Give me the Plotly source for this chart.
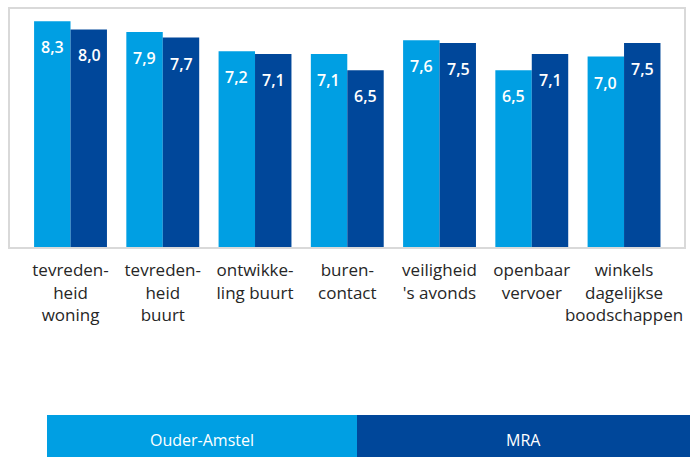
import plotly.graph_objects as go

categories = [
    "tevreden-<br>heid<br>woning",
    "tevreden-<br>heid<br>buurt",
    "ontwikke-<br>ling buurt",
    "buren-<br>contact",
    "veiligheid<br>'s avonds",
    "openbaar<br>vervoer",
    "winkels<br>dagelijkse<br>boodschappen",
]
ouder_amstel = [8.3, 7.9, 7.2, 7.1, 7.6, 6.5, 7.0]
mra = [8.0, 7.7, 7.1, 6.5, 7.5, 7.1, 7.5]
series_names = ["Ouder-Amstel", "MRA"]

LIGHT = "#009FE3"
DARK = "#00479A"
FONT = "Open Sans"

fig = go.Figure()
idx = list(range(len(categories)))
fig.add_trace(go.Bar(x=idx, y=ouder_amstel, name=series_names[0],
                     marker=dict(color=LIGHT, line=dict(width=0))))
fig.add_trace(go.Bar(x=idx, y=mra, name=series_names[1],
                     marker=dict(color=DARK, line=dict(width=0))))

annotations = []
for vals, sh in ((ouder_amstel, -18.5), (mra, 18.5)):
    for i, v in enumerate(vals):
        annotations.append(dict(
            x=i, y=v, xref="x", yref="y", xshift=sh, yshift=-26,
            text=f"{v:.1f}".replace(".", ","), showarrow=False,
            font=dict(family=FONT, size=16, color="white", weight=600),
            xanchor="center", yanchor="middle"))

fig.update_layout(
    width=690, height=457,
    margin=dict(l=10, r=6, t=9, b=210, autoexpand=False),
    plot_bgcolor="white", paper_bgcolor="white",
    barmode="group", bargap=0.21, bargroupgap=0,
    showlegend=False,
    separators=",.",
    font=dict(family=FONT, color="#262626"),
    xaxis=dict(
        tickmode="array", tickvals=idx, ticktext=categories,
        range=[-0.656, 6.65], tickangle=0, automargin=False,
        showline=True, mirror=True, linecolor="#D9D9D9", linewidth=2,
        showgrid=False, zeroline=False, ticks="",
        tickfont=dict(family=FONT, size=17, color="#262626"),
        ticklabelstandoff=7,
    ),
    yaxis=dict(
        range=[0, 8.75], showticklabels=False, showgrid=False, automargin=False,
        zeroline=False, showline=True, mirror=True,
        linecolor="#D9D9D9", linewidth=2, ticks="",
    ),
)

shapes = []
legend_blocks = [(series_names[0], LIGHT, 47, 357), (series_names[1], DARK, 357, 690)]
for name, col, x0, x1 in legend_blocks:
    shapes.append(dict(type="rect", xref="paper", yref="paper",
                       x0=(x0 - 10) / 674, x1=(x1 - 10) / 674,
                       y0=(247 - 457) / 238, y1=(247 - 415) / 238,
                       fillcolor=col, line=dict(width=0), layer="above"))
    annotations.append(dict(
        x=((x0 + x1) / 2 - 10) / 674, y=(247 - 440) / 238,
        xref="paper", yref="paper", text=name, showarrow=False,
        font=dict(family=FONT, size=16, color="white"),
        xanchor="center", yanchor="middle"))

fig.update_layout(shapes=shapes, annotations=annotations)
fig.write_html("out.html",
               config={"displayModeBar": False},
               post_script="document.body.style.margin='0';document.body.style.padding='0';")
